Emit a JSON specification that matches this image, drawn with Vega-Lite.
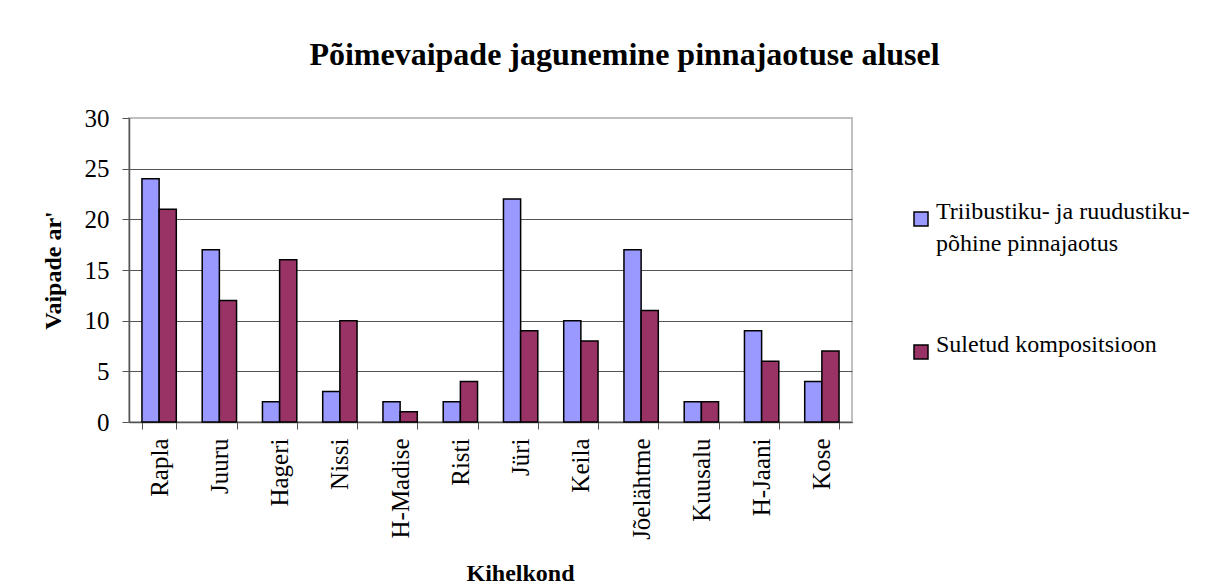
{
  "$schema": "https://vega.github.io/schema/vega-lite/v6.json",
  "width": 723,
  "height": 304,
  "autosize": {"type": "none"},
  "padding": {"left": 129, "top": 118, "right": 362, "bottom": 166},
  "background": "white",
  "title": {
    "text": "Põimevaipade jagunemine pinnajaotuse alusel",
    "font": "Liberation Serif",
    "fontSize": 32,
    "fontWeight": "bold",
    "color": "black",
    "anchor": "middle",
    "frame": "group",
    "baseline": "alphabetic",
    "offset": 9,
    "dx": 134
  },
  "data": {
    "values": [
      {"k": "Rapla", "s": "Triibustiku- ja ruudustiku-põhine pinnajaotus", "v": 24},
      {"k": "Rapla", "s": "Suletud kompositsioon", "v": 21},
      {"k": "Juuru", "s": "Triibustiku- ja ruudustiku-põhine pinnajaotus", "v": 17},
      {"k": "Juuru", "s": "Suletud kompositsioon", "v": 12},
      {"k": "Hageri", "s": "Triibustiku- ja ruudustiku-põhine pinnajaotus", "v": 2},
      {"k": "Hageri", "s": "Suletud kompositsioon", "v": 16},
      {"k": "Nissi", "s": "Triibustiku- ja ruudustiku-põhine pinnajaotus", "v": 3},
      {"k": "Nissi", "s": "Suletud kompositsioon", "v": 10},
      {"k": "H-Madise", "s": "Triibustiku- ja ruudustiku-põhine pinnajaotus", "v": 2},
      {"k": "H-Madise", "s": "Suletud kompositsioon", "v": 1},
      {"k": "Risti", "s": "Triibustiku- ja ruudustiku-põhine pinnajaotus", "v": 2},
      {"k": "Risti", "s": "Suletud kompositsioon", "v": 4},
      {"k": "Jüri", "s": "Triibustiku- ja ruudustiku-põhine pinnajaotus", "v": 22},
      {"k": "Jüri", "s": "Suletud kompositsioon", "v": 9},
      {"k": "Keila", "s": "Triibustiku- ja ruudustiku-põhine pinnajaotus", "v": 10},
      {"k": "Keila", "s": "Suletud kompositsioon", "v": 8},
      {"k": "Jõelähtme", "s": "Triibustiku- ja ruudustiku-põhine pinnajaotus", "v": 17},
      {"k": "Jõelähtme", "s": "Suletud kompositsioon", "v": 11},
      {"k": "Kuusalu", "s": "Triibustiku- ja ruudustiku-põhine pinnajaotus", "v": 2},
      {"k": "Kuusalu", "s": "Suletud kompositsioon", "v": 2},
      {"k": "H-Jaani", "s": "Triibustiku- ja ruudustiku-põhine pinnajaotus", "v": 9},
      {"k": "H-Jaani", "s": "Suletud kompositsioon", "v": 6},
      {"k": "Kose", "s": "Triibustiku- ja ruudustiku-põhine pinnajaotus", "v": 4},
      {"k": "Kose", "s": "Suletud kompositsioon", "v": 7}
    ]
  },
  "mark": {"type": "bar", "stroke": "black", "strokeWidth": 1.5},
  "encoding": {
    "x": {
      "field": "k",
      "type": "nominal",
      "sort": null,
      "scale": {"paddingInner": 0.43, "paddingOuter": 0.215},
      "axis": {
        "title": "Kihelkond",
        "titleFont": "Liberation Serif",
        "titleFontSize": 24,
        "titleFontWeight": "bold",
        "titleColor": "black",
        "titleX": 391,
        "titleY": 158,
        "titleBaseline": "alphabetic",
        "labelAngle": 270,
        "labelFont": "Liberation Serif",
        "labelFontSize": 25,
        "labelColor": "black",
        "labelPadding": 9,
        "tickBand": "extent",
        "tickSize": 7,
        "tickColor": "#555555",
        "domainColor": "#555555",
        "domainWidth": 1.5,
        "labelOverlap": false,
        "labelLimit": 300
      }
    },
    "xOffset": {
      "field": "s",
      "type": "nominal",
      "sort": ["Triibustiku- ja ruudustiku-põhine pinnajaotus", "Suletud kompositsioon"],
      "scale": {"paddingInner": 0, "paddingOuter": 0}
    },
    "y": {
      "field": "v",
      "type": "quantitative",
      "scale": {"domain": [0, 30], "nice": false},
      "axis": {
        "title": "Vaipade ar'",
        "titleFont": "Liberation Serif",
        "titleFontSize": 24,
        "titleFontWeight": "bold",
        "titleColor": "black",
        "titlePadding": 19,
        "values": [0, 5, 10, 15, 20, 25, 30],
        "labelFont": "Liberation Serif",
        "labelFontSize": 25,
        "labelColor": "black",
        "labelPadding": 13,
        "tickSize": 7,
        "tickColor": "#555555",
        "domainColor": "#555555",
        "domainWidth": 1.5,
        "grid": true,
        "gridColor": {"condition": {"test": "datum.value == 30", "value": "#c0c0c0"}, "value": "#555555"},
        "gridWidth": 1
      }
    },
    "color": {
      "field": "s",
      "type": "nominal",
      "sort": ["Triibustiku- ja ruudustiku-põhine pinnajaotus", "Suletud kompositsioon"],
      "scale": {
        "domain": ["Triibustiku- ja ruudustiku-põhine pinnajaotus", "Suletud kompositsioon"],
        "range": ["#9999ff", "#993366"]
      },
      "legend": {
        "title": null,
        "orient": "none",
        "legendX": 780,
        "legendY": 89,
        "symbolType": "square",
        "symbolSize": 196,
        "symbolStrokeColor": "black",
        "symbolStrokeWidth": 1.5,
        "labelFont": "Liberation Serif",
        "labelFontSize": 24,
        "labelColor": "black",
        "labelLimit": 400,
        "labelOffset": 3,
        "labelBaseline": "alphabetic",
        "rowPadding": 77,
        "labelExpr": "datum.label == 'Suletud kompositsioon' ? datum.label : ['Triibustiku- ja ruudustiku-', 'põhine pinnajaotus']"
      }
    }
  },
  "config": {
    "font": "Liberation Serif",
    "view": {"stroke": "#c0c0c0", "strokeWidth": 2},
    "style": {"guide-label": {"lineHeight": 32, "font": "Liberation Serif"}, "guide-title": {"font": "Liberation Serif"}}
  }
}
